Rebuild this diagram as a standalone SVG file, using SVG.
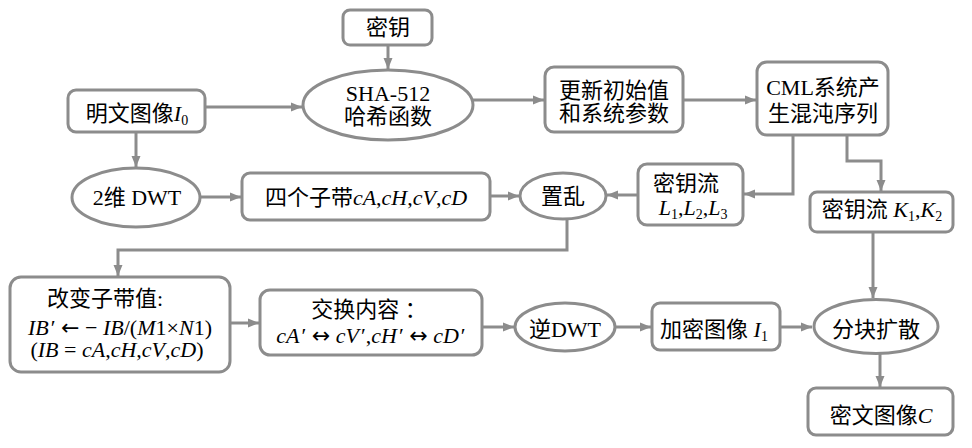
<svg xmlns="http://www.w3.org/2000/svg" width="972" height="448" viewBox="0 0 972 448">
<defs>
<style>
.n{fill:#fff;stroke:#8c8c8c;stroke-width:3}
.c{fill:none;stroke:#8c8c8c;stroke-width:3}
text{font-family:"Liberation Serif","Noto Sans CJK SC",serif;font-size:22px;fill:#000;text-anchor:middle}
.i{font-style:italic}
.s{font-size:14px;font-style:normal}
.a{font-family:"DejaVu Sans",sans-serif;font-size:22px}
</style>
<marker id="ah" markerUnits="userSpaceOnUse" markerWidth="12" markerHeight="10" refX="11" refY="5" orient="auto">
<path d="M0,0.5 L11,5 L0,9.5 z" fill="#8c8c8c"/>
</marker>
</defs>
<rect width="972" height="448" fill="#fff"/>
<g id="connectors">
<path class="c" marker-end="url(#ah)" d="M388,45 V69"/>
<path class="c" marker-end="url(#ah)" d="M205,107 H302"/>
<path class="c" marker-end="url(#ah)" d="M472,100 H544"/>
<path class="c" marker-end="url(#ah)" d="M683,100 H756"/>
<path class="c" marker-end="url(#ah)" d="M136,132 V167"/>
<path class="c" marker-end="url(#ah)" d="M200,197 H241"/>
<path class="c" marker-end="url(#ah)" d="M490,196 H519"/>
<path class="c" marker-end="url(#ah)" d="M793,135 V194 H744"/>
<path class="c" marker-end="url(#ah)" d="M847,135 V161 H881 V191"/>
<path class="c" marker-end="url(#ah)" d="M638,195 H607"/>
<path class="c" marker-end="url(#ah)" d="M567,219 V250 H118 V276"/>
<path class="c" marker-end="url(#ah)" d="M230,323 H259"/>
<path class="c" marker-end="url(#ah)" d="M482,327 H514"/>
<path class="c" marker-end="url(#ah)" d="M615,327 H651"/>
<path class="c" marker-end="url(#ah)" d="M780,327 H812"/>
<path class="c" marker-end="url(#ah)" d="M873,232 V298"/>
<path class="c" marker-end="url(#ah)" d="M880,353 V387"/>
</g>
<g id="key">
<rect class="n" x="343" y="10" width="89" height="35" rx="7"/>
<text x="388" y="35">密钥</text>
</g>
<g id="plain">
<rect class="n" x="68" y="90" width="137" height="42" rx="8"/>
<text x="137" y="121">明文图像<tspan class="i">I</tspan><tspan class="s" dy="4">0</tspan></text>
</g>
<g id="sha">
<ellipse class="n" cx="388" cy="105" rx="85" ry="35"/>
<text x="388" y="101">SHA-512</text>
<text x="388" y="124">哈希函数</text>
</g>
<g id="update">
<rect class="n" x="545" y="67" width="138" height="65" rx="9"/>
<text x="614" y="98">更新初始值</text>
<text x="614" y="121">和系统参数</text>
</g>
<g id="cml">
<rect class="n" x="757" y="62" width="131" height="73" rx="10"/>
<text x="823" y="95">CML系统产</text>
<text x="823" y="121">生混沌序列</text>
</g>
<g id="dwt">
<ellipse class="n" cx="136" cy="197.5" rx="64" ry="29.5"/>
<text x="137" y="205">2维 DWT</text>
</g>
<g id="subbands">
<rect class="n" x="242" y="173" width="248" height="47" rx="8"/>
<text x="366" y="205">四个子带<tspan class="i">cA</tspan>,<tspan class="i">cH</tspan>,<tspan class="i">cV</tspan>,<tspan class="i">cD</tspan></text>
</g>
<g id="scramble">
<ellipse class="n" cx="563" cy="196" rx="43" ry="23"/>
<text x="563" y="204">置乱</text>
</g>
<g id="keystreamL">
<rect class="n" x="638" y="164" width="105" height="61" rx="9"/>
<text x="686" y="191">密钥流</text>
<text x="693" y="215"><tspan class="i">L</tspan><tspan class="s" dy="4">1</tspan><tspan dy="-4">,</tspan><tspan class="i">L</tspan><tspan class="s" dy="4">2</tspan><tspan dy="-4">,</tspan><tspan class="i">L</tspan><tspan class="s" dy="4">3</tspan></text>
</g>
<g id="keystreamK">
<rect class="n" x="810" y="192" width="143" height="40" rx="7"/>
<text x="882" y="217">密钥流 <tspan class="i">K</tspan><tspan class="s" dy="4">1</tspan><tspan dy="-4">,</tspan><tspan class="i">K</tspan><tspan class="s" dy="4">2</tspan></text>
</g>
<g id="change">
<rect class="n" x="10" y="277" width="220" height="95" rx="11"/>
<text x="105" y="306">改变子带值:</text>
<text x="120" y="335"><tspan class="i">IB</tspan><tspan dx="2">′</tspan> <tspan class="a">←</tspan> − <tspan class="i">IB</tspan>/(<tspan class="i">M</tspan>1×<tspan class="i">N</tspan>1)</text>
<text x="117" y="357">(<tspan class="i">IB</tspan> = <tspan class="i">cA</tspan>,<tspan class="i">cH</tspan>,<tspan class="i">cV</tspan>,<tspan class="i">cD</tspan>)</text>
</g>
<g id="swap">
<rect class="n" x="260" y="290" width="222" height="65" rx="10"/>
<text x="369" y="317">交换内容 ：</text>
<text x="371" y="343"><tspan class="i">cA</tspan><tspan dx="2">′</tspan> <tspan class="a">↔</tspan> <tspan class="i">cV</tspan><tspan dx="2">′</tspan>,<tspan class="i">cH</tspan><tspan dx="2">′</tspan> <tspan class="a">↔</tspan> <tspan class="i">cD</tspan><tspan dx="2">′</tspan></text>
</g>
<g id="idwt">
<ellipse class="n" cx="565" cy="327" rx="50" ry="24"/>
<text x="565" y="337">逆DWT</text>
</g>
<g id="encrypted">
<rect class="n" x="652" y="303" width="128" height="47" rx="8"/>
<text x="714" y="337">加密图像 <tspan class="i">I</tspan><tspan class="s" dy="4">1</tspan></text>
</g>
<g id="diffuse">
<ellipse class="n" cx="876" cy="326.5" rx="62" ry="27"/>
<text x="876" y="337">分块扩散</text>
</g>
<g id="cipher">
<rect class="n" x="808" y="388" width="145" height="47" rx="8"/>
<text x="881" y="423">密文图像<tspan class="i">C</tspan></text>
</g>
</svg>
